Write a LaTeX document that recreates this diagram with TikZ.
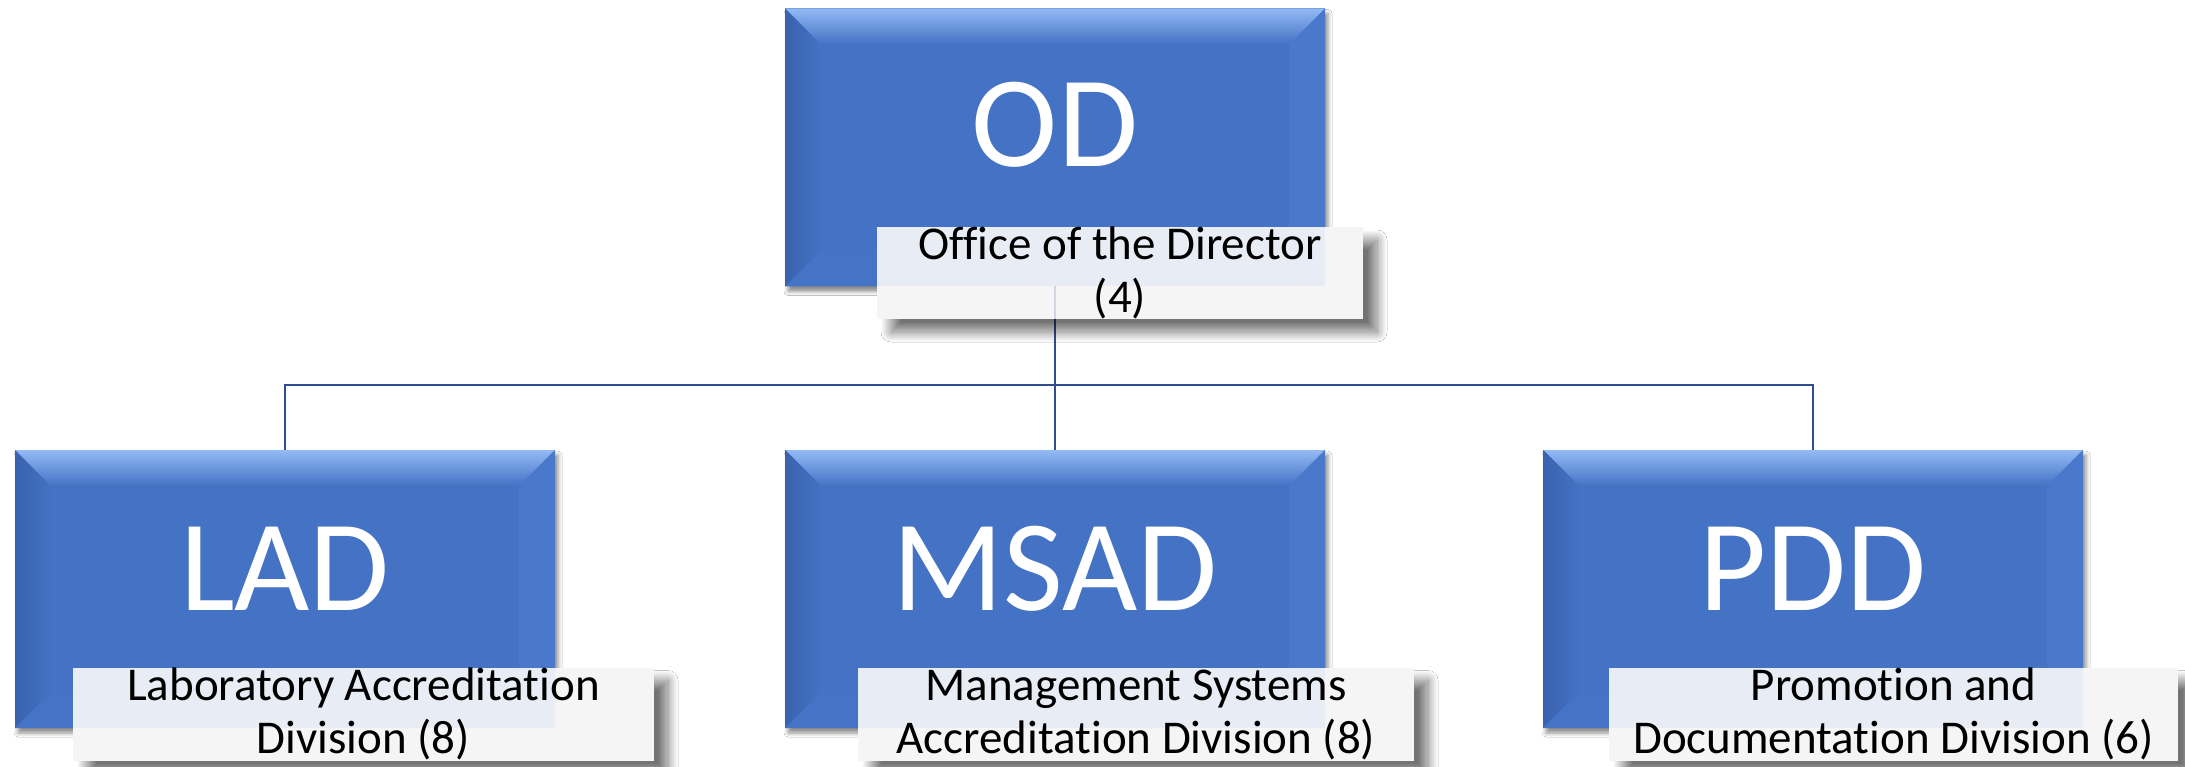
\documentclass[tikz,border=0pt]{standalone}
\usepackage{fontspec}
\setmainfont{Carlito}[Ligatures=NoCommon]
\usetikzlibrary{calc,shadows.blur}
\definecolor{boxblue}{HTML}{4472C4}
\definecolor{bevtop}{HTML}{93BAF5}
\definecolor{bevleft}{HTML}{3A62AE}
\definecolor{bevright}{HTML}{4A78CB}
\definecolor{bevbot}{HTML}{4573C5}
\definecolor{linkblue}{HTML}{2F4D8E}
\definecolor{lblfill}{HTML}{F5F5F6}
\definecolor{lbltint}{HTML}{E8ECF5}
\newcommand\drawbevel[1]{%
  \shade[top color=bevtop, bottom color=boxblue] (#1.north west) -- (#1.north east) -- ($(#1.north east)+(-36,36)$) -- ($(#1.north west)+(36,36)$) -- cycle;
  \shade[left color=bevleft, right color=boxblue] (#1.north west) -- ($(#1.north west)+(36,36)$) -- ($(#1.south west)+(36,-36)$) -- (#1.south west) -- cycle;
  \fill[bevright] (#1.north east) -- (#1.south east) -- ($(#1.south east)+(-36,-36)$) -- ($(#1.north east)+(-36,36)$) -- cycle;
  \fill[bevbot] (#1.south west) -- ($(#1.south west)+(36,-36)$) -- ($(#1.south east)+(-36,-36)$) -- (#1.south east) -- cycle;
}
\tikzset{
  unitbox/.style={rectangle, fill=boxblue, minimum width=540pt, minimum height=278pt,
    inner sep=0pt, outer sep=0pt,
    blur shadow={shadow xshift=3pt, shadow yshift=-5pt, shadow blur radius=4pt, shadow opacity=45}},
  abbr/.style={anchor=base, text=white, font=\fontsize{130}{130}\selectfont, inner sep=0pt},
  lblbox/.style={rectangle, fill=lblfill, minimum height=93pt,
    inner sep=0pt, outer sep=0pt,
    blur shadow={shadow xshift=14pt, shadow yshift=-13pt, shadow blur radius=10pt, shadow blur steps=20, shadow opacity=55}},
  lbltext/.style={anchor=base, text=black, font=\fontsize{47}{53}\selectfont, inner sep=0pt},
  link/.style={draw=linkblue, line width=2.3pt},
}
\begin{document}
\begin{tikzpicture}[x=1pt, y=-1pt]
  \useasboundingbox (0,0) rectangle (2185,767);
  \fill[white] (0,0) rectangle (2185,767);
  % unit boxes
  \node[unitbox] (od)   at (1055,147.5) {};
  \node[unitbox] (lad)  at (285,589) {};
  \node[unitbox] (msad) at (1055,589) {};
  \node[unitbox] (pdd)  at (1813,589) {};
  \drawbevel{od}
  \drawbevel{lad}
  \drawbevel{msad}
  \drawbevel{pdd}
  \node[abbr] (odt)   at (1055,167) {OD};
  \node[abbr] (ladt)  at (285,610) {LAD};
  \node[abbr] (msadt) at (1055,610) {MSAD};
  \node[abbr] (pddt)  at (1813,610) {PDD};
  % connectors
  \coordinate (bus) at (1055,385);
  \draw[link] (od.south) -- (bus);
  \draw[link] (lad.north) |- (bus) -| (pdd.north);
  \draw[link] (bus) -- (msad.north);
  % label boxes
  \node[lblbox, minimum width=486pt, minimum height=92pt] (odl) at (1120,273) {};
  \node[lblbox, minimum width=581pt] (ladl)  at (363.5,714) {};
  \node[lblbox, minimum width=556pt] (msadl) at (1136,714) {};
  \node[lblbox, minimum width=569pt] (pddl)  at (1893.5,714) {};
  \fill[lbltint] (odl.north west) rectangle (od.south east);
  \fill[lbltint] (ladl.north west) rectangle (lad.south east);
  \fill[lbltint] (msadl.north west) rectangle (msad.south east);
  \fill[lbltint] (pddl.north west) rectangle (pdd.south east);
  \draw[link, draw opacity=0.18] (od.south) -- (od.south |- odl.south);
  \node[lbltext] (odl1) at (1120,260) {Office of the Director};
  \node[lbltext] (odl2) at (1120,313) {(4)};
  \node[lbltext] (ladl1) at (363.5,700) {Laboratory Accreditation};
  \node[lbltext] (ladl2) at (363.5,753) {Division (8)};
  \node[lbltext] (msadl1) at (1136,700) {Management Systems};
  \node[lbltext] (msadl2) at (1136,753) {Accreditation Division (8)};
  \node[lbltext] (pddl1) at (1893.5,700) {Promotion and};
  \node[lbltext] (pddl2) at (1893.5,753) {Documentation Division (6)};
\end{tikzpicture}
\end{document}
